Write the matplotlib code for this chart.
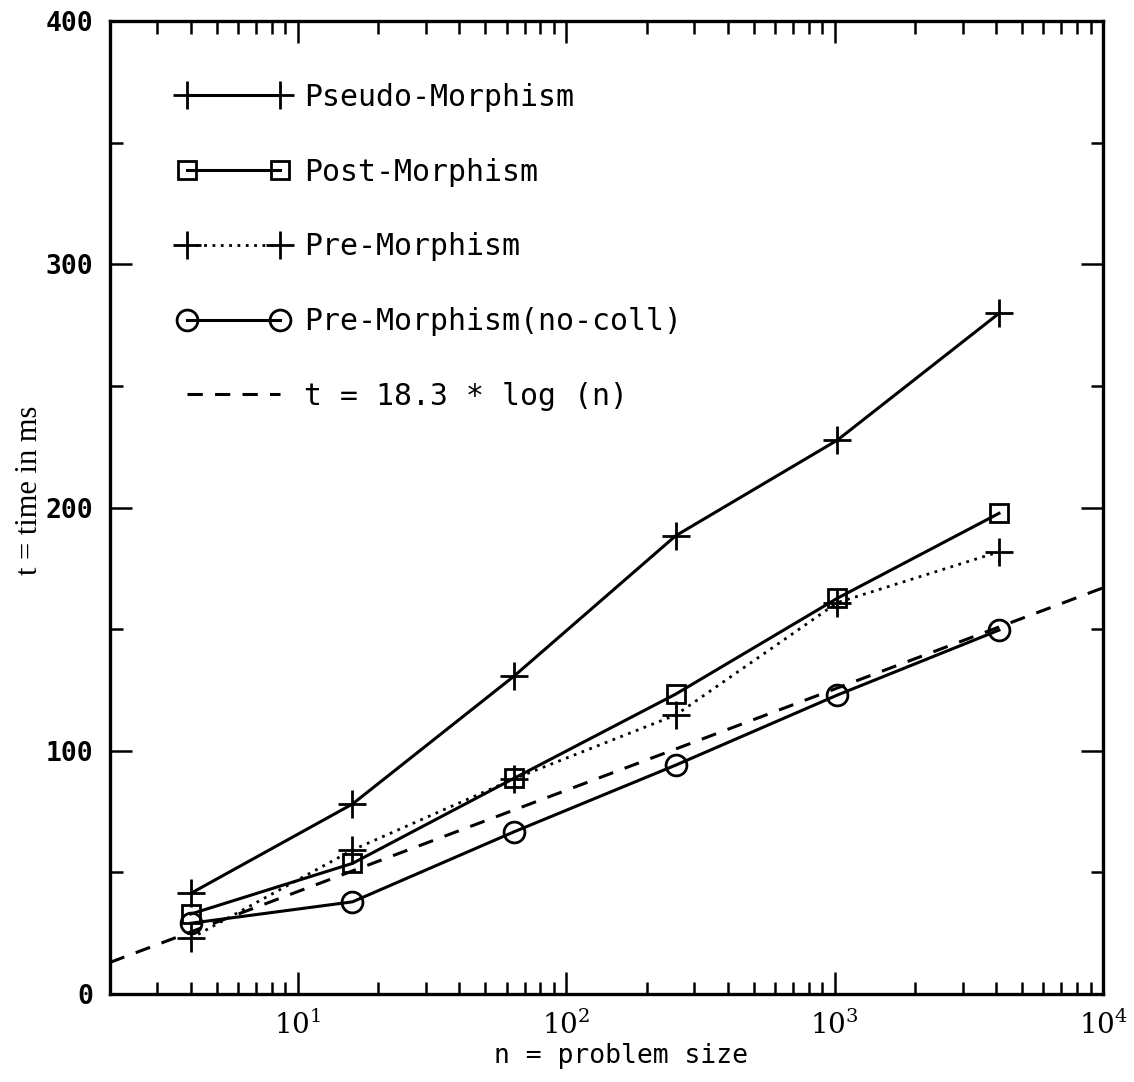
import matplotlib
matplotlib.use('Agg')
import matplotlib.pyplot as plt
from matplotlib.ticker import LogLocator, FixedLocator, NullFormatter

# problem sizes and measured times (ms)
n = [4, 16, 64, 256, 1024, 4096]
pseudo = [41.4, 78.1, 130.7, 188.4, 227.7, 279.8]
post = [32.9, 53.7, 88.7, 123.3, 162.7, 197.6]
pre = [22.9, 59.2, 88.5, 114.7, 160.9, 181.8]
pre_nocoll = [29.1, 37.9, 66.7, 94.1, 122.9, 149.6]

# fitted curve
fit_n = [2, 10000]
fit_t = [13.0, 167.0]

xtick_vals = [10, 100, 1000, 10000]
xtick_labels = ['$10^1$', '$10^2$', '$10^3$', '$10^4$']
ytick_vals = [0, 100, 200, 300, 400]

plt.rcParams['mathtext.fontset'] = 'dejavuserif'

fig = plt.figure(figsize=(11.34, 10.82), dpi=100)
ax = fig.add_axes([0.097, 0.0813, 0.8757, 0.8993])

lw = 2.2
ax.plot(n, pseudo, color='black', lw=lw, marker='+', ms=20, mew=2.0,
        label='Pseudo-Morphism')
ax.plot(n, post, color='black', lw=lw, marker='s', ms=13, mew=2.0,
        mfc='none', label='Post-Morphism')
ax.plot(n, pre, color='black', lw=2.0, ls=(0, (1, 2)), marker='+', ms=20,
        mew=2.0, label='Pre-Morphism')
ax.plot(n, pre_nocoll, color='black', lw=lw, marker='o', ms=15, mew=2.0,
        mfc='none', label='Pre-Morphism(no-coll)')
ax.plot(fit_n, fit_t, color='black', lw=lw, ls=(0, (5, 4)),
        label='t = 18.3 * log (n)')

ax.set_xscale('log')
ax.set_xlim(2, 10000)
ax.set_ylim(0, 400)

ax.xaxis.set_major_locator(FixedLocator(xtick_vals))
ax.set_xticklabels(xtick_labels)
ax.xaxis.set_minor_locator(LogLocator(base=10, subs=range(2, 10), numticks=20))
ax.xaxis.set_minor_formatter(NullFormatter())
ax.set_yticks(ytick_vals)
ax.yaxis.set_minor_locator(FixedLocator([50, 150, 250, 350]))

ax.tick_params(which='both', direction='in', top=True, right=True,
               width=1.8, color='black')
ax.tick_params(which='major', length=16, pad=12)
ax.tick_params(which='minor', length=9)
for lab in ax.get_yticklabels():
    lab.set_family('DejaVu Sans Mono')
    lab.set_fontsize(19)
    lab.set_weight('bold')
for lab in ax.get_xticklabels():
    lab.set_family('DejaVu Serif')
    lab.set_fontsize(20)
for sp in ax.spines.values():
    sp.set_linewidth(2.4)

ax.set_xlabel('n = problem size', family='DejaVu Sans Mono', fontsize=19)
ax.xaxis.set_label_coords(0.515, -0.05)
ax.set_ylabel('t = time in ms', family='Liberation Serif', fontsize=22)
ax.yaxis.set_label_coords(-0.066, 0.518)

leg = ax.legend(loc='upper left', bbox_to_anchor=(0.0415, 0.964), frameon=False,
                numpoints=2, handlelength=3.71, handletextpad=0.5,
                labelspacing=1.53, prop={'family': 'DejaVu Sans Mono', 'size': 21.5})

fig.savefig('out.png', dpi=100)
